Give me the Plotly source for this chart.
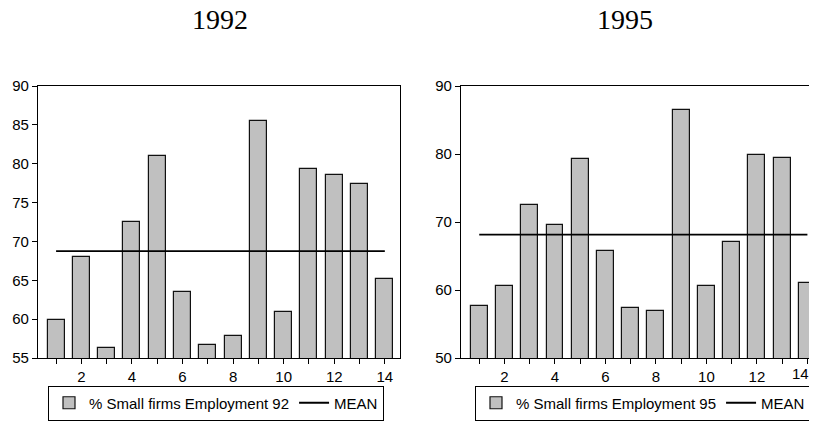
import numpy as np
import plotly.graph_objects as go

obs = list(range(1, 15))
emp92 = [59.9, 68.0, 56.3, 72.5, 81.0, 63.5, 56.7, 57.8, 85.5, 60.9, 79.3, 78.6, 77.4, 65.2]
emp95 = [57.7, 60.6, 72.5, 69.5, 79.3, 65.8, 57.4, 56.9, 86.4, 60.6, 67.0, 79.8, 79.4, 61.0]
tick_vals = obs
tick_text = [str(v) if v % 2 == 0 else "" for v in obs]
titles = ["1992", "1995"]
names = ["% Small firms Employment 92", "% Small firms Employment 95"]

# page is 817x422 but the body has an 8px margin, so the figure is 809x414
OFF = 8
W, H = 817 - OFF, 422 - OFF


def fx(px):
    return (px - OFF) / W


def fy(py):
    return 1 - (py - OFF) / H


SANS = "Liberation Sans, Arial"
SERIF = "Liberation Serif, Times New Roman"
fig = go.Figure()

bar_marker = dict(color="#c0c0c0", line=dict(color="#111111", width=1.2))

fig.add_trace(go.Bar(x=obs, y=emp92, width=0.67, base=0, name=names[0], marker=bar_marker,
                     xaxis="x", yaxis="y", legend="legend"))
m92 = float(np.mean(emp92))
fig.add_trace(go.Scatter(x=[obs[0], obs[-1]], y=[m92, m92], mode="lines", name="MEAN",
                         line=dict(color="black", width=1.8), xaxis="x", yaxis="y", legend="legend"))

fig.add_trace(go.Bar(x=obs, y=emp95, width=0.67, base=0, name=names[1], marker=bar_marker,
                     xaxis="x2", yaxis="y2", legend="legend2"))
m95 = float(np.mean(emp95))
fig.add_trace(go.Scatter(x=[obs[0], obs[-1]], y=[m95, m95], mode="lines", name="MEAN",
                         line=dict(color="black", width=1.8), xaxis="x2", yaxis="y2", legend="legend2"))

ydom = [fy(358), fy(86)]
tickfont = dict(family=SANS, size=15, color="black")
common_x = dict(tickmode="array", ticks="outside", ticklen=5, tickcolor="black",
                showline=True, linecolor="black", linewidth=1.2, showgrid=False,
                zeroline=False, tickfont=tickfont, automargin=False)
common_y = dict(ticks="outside", ticklen=5, tickcolor="black", showline=True, linecolor="black",
                linewidth=1.2, showgrid=False, zeroline=False, tickfont=tickfont, automargin=False)

# right panel: last tick label is drawn separately (nudged inside the page edge)
tick_text2 = tick_text[:-1] + [""]

legend_common = dict(xanchor="left", yanchor="middle", orientation="h",
                     bordercolor="black", borderwidth=1,
                     font=dict(family=SANS, size=15, color="black"),
                     itemwidth=30, tracegroupgap=0, bgcolor="white")

fig.update_layout(
    width=W, height=H, margin=dict(l=0, r=0, t=0, b=0, pad=0, autoexpand=False),
    plot_bgcolor="white", paper_bgcolor="white", bargap=0,
    xaxis=dict(domain=[fx(38), fx(400)], range=[0.285, 14.6], anchor="y", mirror=True,
               tickvals=tick_vals, ticktext=tick_text, **common_x),
    yaxis=dict(domain=ydom, range=[55, 90], tickvals=[55, 60, 65, 70, 75, 80, 85, 90],
               anchor="x", mirror=True, **common_y),
    xaxis2=dict(domain=[fx(461), 1.0], range=[0.278, 14.38], anchor="y2", mirror=True,
                tickvals=tick_vals, ticktext=tick_text2, **common_x),
    yaxis2=dict(domain=ydom, range=[50, 90], tickvals=[50, 60, 70, 80, 90],
                anchor="x2", mirror=False, **common_y),
    legend=dict(x=fx(48), y=fy(403), **legend_common),
    legend2=dict(x=fx(475), y=fy(403), **legend_common),
    annotations=[
        dict(text=titles[0], x=fx(220), y=fy(19), xref="paper", yref="paper", showarrow=False,
             xanchor="center", yanchor="middle", font=dict(family=SERIF, size=28, color="black")),
        dict(text=titles[1], x=fx(625), y=fy(19), xref="paper", yref="paper", showarrow=False,
             xanchor="center", yanchor="middle", font=dict(family=SERIF, size=28, color="black")),
        dict(text=tick_text[-1], x=obs[-1], xref="x2", y=ydom[0], yref="paper", showarrow=False,
             xanchor="center", yanchor="top", xshift=-7, yshift=-5, font=tickfont),
    ],
    showlegend=True,
)

fig.write_html("out.html")
